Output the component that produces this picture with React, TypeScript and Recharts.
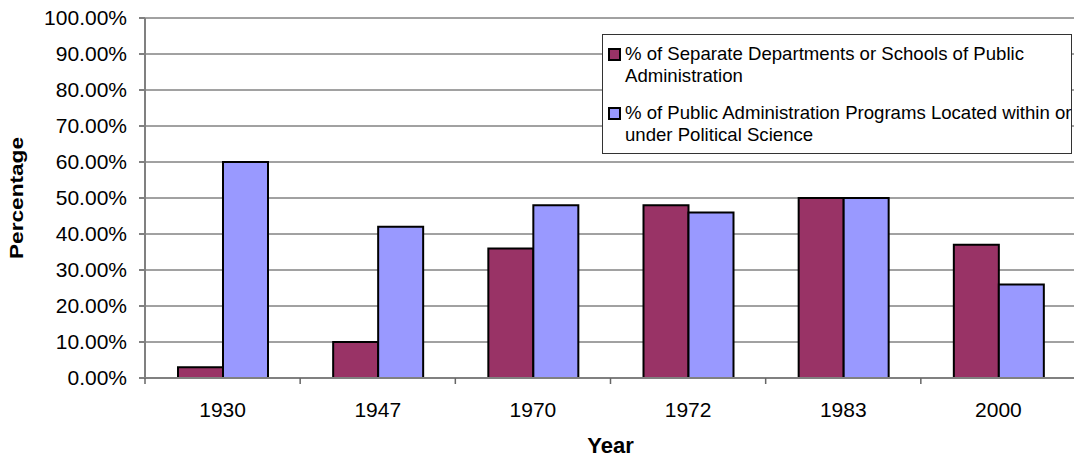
import { BarChart, Bar, XAxis, YAxis, CartesianGrid, Legend } from "recharts"

const years = ["1930", "1947", "1970", "1972", "1983", "2000"]
const separateDepts = [0.03, 0.1, 0.36, 0.48, 0.5, 0.37]
const underPolSci = [0.6, 0.42, 0.48, 0.46, 0.5, 0.26]
const yTicks = [0, 0.1, 0.2, 0.3, 0.4, 0.5, 0.6, 0.7, 0.8, 0.9, 1]

const seriesNames = [
  "% of Separate Departments or Schools of Public Administration",
  "% of Public Administration Programs Located within or under Political Science",
]
const seriesLines = [
  ["% of Separate Departments or Schools of Public", "Administration"],
  ["% of Public Administration Programs Located within or", "under Political Science"],
]
const colors = ["#993366", "#9999FF"]

const data = years.map((y, i) => ({
  year: y,
  sep: separateDepts[i],
  pol: underPolSci[i],
}))

const font = "'Liberation Sans', Arial, sans-serif"

// tick marks sit on the category boundaries, labels in the middle
const YearTick = (props: any) => {
  const { x, y, payload, width, visibleTicksCount } = props
  const half = width / visibleTicksCount / 2
  return (
    <g>
      <line x1={x - half} x2={x - half} y1={y} y2={y + 6} stroke="#666" strokeWidth={1.5} />
      <text x={x} y={y + 39} textAnchor="middle" fontSize={21} fill="#000" fontFamily={font}>
        {payload.value}
      </text>
    </g>
  )
}

// the original label is a little stretched along its length
const PercentLabel = (props: any) => {
  const { viewBox } = props
  const cx = 17
  const cy = viewBox.y + viewBox.height / 2
  return (
    <text
      x={cx}
      y={cy}
      transform={`rotate(-90, ${cx}, ${cy})`}
      textAnchor="middle"
      dominantBaseline="central"
      fontSize={18}
      fontWeight="bold"
      fill="#000"
      fontFamily={font}
      textLength={122}
      lengthAdjust="spacingAndGlyphs"
    >
      Percentage
    </text>
  )
}

const LegendBox = () => (
  <div
    style={{
      border: "1px solid #333",
      background: "#fff",
      width: 470,
      height: 120,
      boxSizing: "border-box",
      padding: "8px 0 0 5px",
      fontFamily: font,
      fontSize: 18.6,
      color: "#000",
      textAlign: "left",
      whiteSpace: "nowrap",
    }}
  >
    {seriesLines.map((lines, i) => (
      <div key={i} style={{ display: "flex", marginBottom: i === 0 ? 15 : 0 }}>
        <div
          style={{
            width: 9,
            height: 9,
            background: colors[i],
            border: "2px solid #000",
            marginTop: 5,
            marginRight: 4,
            flexShrink: 0,
          }}
        />
        <div style={{ lineHeight: "22px" }}>
          {lines.map((l, j) => (
            <div key={j}>{l}</div>
          ))}
        </div>
      </div>
    ))}
  </div>
)

export default function App() {
  return (
    <div
      style={{
        position: "absolute",
        left: 0,
        top: 0,
        width: 1074,
        height: 460,
        overflow: "hidden",
        background: "#fff",
      }}
    >
      <BarChart
        width={1080}
        height={460}
        data={data}
        margin={{ top: 18, right: 4, bottom: 42, left: 0 }}
        barCategoryGap={33}
        barGap={0}
      >
        <CartesianGrid vertical={false} stroke="#444" strokeWidth={1} />
        <XAxis
          dataKey="year"
          height={40}
          tickLine={false}
          tickSize={0}
          tickMargin={0}
          stroke="#808080"
          strokeWidth={2}
          tick={<YearTick />}
          interval={0}
          label={{
            value: "Year",
            position: "insideBottom",
            offset: -35,
            style: { fontWeight: "bold", fontSize: 22, fill: "#000", fontFamily: font },
          }}
        />
        <YAxis
          width={145}
          domain={[0, 1]}
          ticks={yTicks}
          interval={0}
          tickSize={6}
          tickMargin={12}
          stroke="#808080"
          strokeWidth={2}
          tickFormatter={(v: number) => (v * 100).toFixed(2) + "%"}
          tick={{ fontSize: 21, fill: "#000", fontFamily: font }}
          label={<PercentLabel />}
        />
        <Legend
          layout="vertical"
          align="center"
          verticalAlign="middle"
          content={<LegendBox />}
          wrapperStyle={{ position: "absolute", left: 602, top: 34, width: 470, height: 120 }}
        />
        <Bar
          dataKey="sep"
          name={seriesNames[0]}
          fill={colors[0]}
          stroke="#000"
          strokeWidth={2}
          isAnimationActive={false}
        />
        <Bar
          dataKey="pol"
          name={seriesNames[1]}
          fill={colors[1]}
          stroke="#000"
          strokeWidth={2}
          isAnimationActive={false}
        />
      </BarChart>
    </div>
  )
}
